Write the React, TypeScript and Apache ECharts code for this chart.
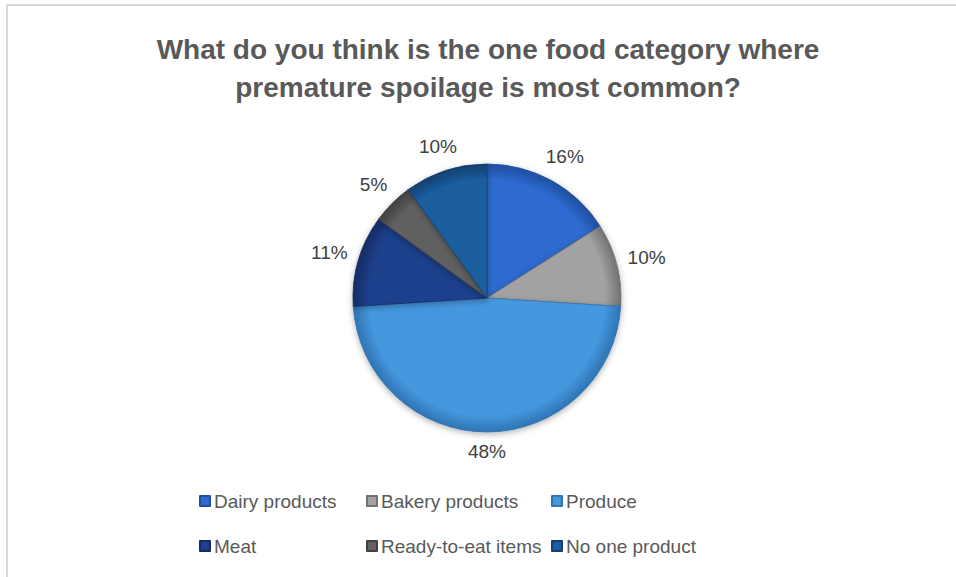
import React, { useEffect, useRef } from "react";
import * as echarts from "echarts";

const categories = ["Dairy products", "Bakery products", "Produce", "Meat", "Ready-to-eat items", "No one product"];
const values = [16, 10, 48, 11, 5, 10];
const colors = ["#2e6bd0", "#a2a2a2", "#4597de", "#1e3f8c", "#616161", "#1b5e9f"];
const edgeColors = ["#1f4f9f", "#727272", "#2f74b3", "#142c63", "#404040", "#123f6e"];
const titleLines = ["What do you think is the one food category where", "premature spoilage is most common?"];
const legendColumns = [["Dairy products", "Meat"], ["Bakery products", "Ready-to-eat items"], ["Produce", "No one product"]];

const CX = 487;
const CY = 298;
const R = 134;
const FONT = "Liberation Sans";

export default function App() {
  const ref = useRef<HTMLDivElement>(null);
  useEffect(() => {
    document.body.style.margin = "0";
    if (!ref.current) return;
    const chart = echarts.init(ref.current, undefined, { renderer: "svg" });
    const total = values.reduce((a, b) => a + b, 0);
    const mids: number[] = [];
    let acc = 0;
    values.forEach((v) => {
      mids.push(((acc + v / 2) / total) * Math.PI * 2);
      acc += v;
    });
    const data = categories.map((name, i) => ({
      name,
      value: values[i],
      itemStyle: {
        color: new echarts.graphic.RadialGradient(CX, CY, R, [
          { offset: 0, color: colors[i] },
          { offset: 0.88, color: colors[i] },
          { offset: 1, color: edgeColors[i] },
        ], true),
        borderColor: edgeColors[i],
        borderWidth: 0.8,
      },
    }));
    const legends = legendColumns.map((col, ci) => ({
      orient: "vertical",
      left: [199, 366, 551][ci],
      top: 491,
      padding: 0,
      itemWidth: 10,
      itemHeight: 10,
      itemGap: 25,
      icon: "rect",
      textStyle: { fontFamily: FONT, fontSize: 19, color: "#595959", lineHeight: 20, padding: [0, 0, 0, -1] },
      data: col.map((n) => ({ name: n, itemStyle: { color: colors[categories.indexOf(n)] } })),
    }));
    chart.setOption({
      animation: false,
      backgroundColor: "#ffffff",
      title: {
        text: titleLines.join("\n"),
        left: 483,
        textAlign: "center",
        top: 25,
        textStyle: { fontFamily: FONT, fontSize: 28, fontWeight: "bold", color: "#595959", lineHeight: 38 },
      },
      legend: legends,
      graphic: [
        {
          type: "rect",
          shape: { x: 7, y: 5, width: 1200, height: 1200 },
          style: { fill: "none", stroke: "#d9d9d9", lineWidth: 2 },
          silent: true,
        },
      ],
      series: [
        {
          type: "pie",
          center: [CX, CY],
          radius: R,
          startAngle: 90,
          clockwise: true,
          data,
          itemStyle: { shadowBlur: 6, shadowColor: "rgba(0,0,0,0.3)", shadowOffsetY: 2 },
          label: {
            show: true,
            position: "outside",
            formatter: (p: any) => p.value + "%",
            fontFamily: FONT,
            fontSize: 19,
            color: "#404040",
          },
          labelLine: { show: false },
          labelLayout: (params: any) => {
            const i = params.dataIndex;
            const t = mids[i];
            const sx = Math.sin(t);
            const cy = -Math.cos(t);
            const w = params.labelRect.width;
            const h = params.labelRect.height;
            const ext = Math.abs(sx) * w / 2 + Math.abs(cy) * h / 2;
            const d = R + 10 + ext;
            return { x: CX + sx * d, y: CY + cy * d, align: "center", verticalAlign: "middle" };
          },
          emphasis: { disabled: true },
        },
      ],
    });
    return () => chart.dispose();
  }, []);
  return <div ref={ref} style={{ width: 956, height: 577 }} />;
}
